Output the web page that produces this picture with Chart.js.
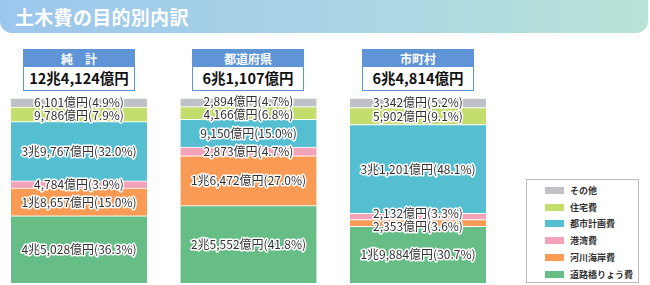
<!DOCTYPE html>
<html><head><meta charset="utf-8">
<script src="https://cdn.jsdelivr.net/npm/chart.js@4/dist/chart.umd.min.js"></script>
<style>
html,body{margin:0;padding:0;background:#fff;}
body{width:650px;height:285px;position:relative;overflow:hidden;font-family:"Noto Sans CJK JP","Noto Sans",sans-serif;}
#banner{position:absolute;left:0;top:0;width:648px;height:33px;border-radius:0 0 12px 12px;background:linear-gradient(to right,#9cc6ec,#a9d4e6 50%,#b7e2d6);}
#banner span{position:absolute;left:15px;top:3px;font-size:19px;font-weight:bold;color:#fff;letter-spacing:0.3px;}
.hdr{position:absolute;width:112px;top:49px;}
.hdr .t{height:18px;background:#5f95d6;color:#fff;font-weight:bold;font-size:12px;line-height:18px;text-align:center;border:1px solid #5f95d6;box-sizing:border-box;}
.hdr .v{height:24px;background:#fff;border:1.5px solid #5f95d6;border-top:none;box-sizing:border-box;color:#111;font-weight:bold;font-size:14.5px;line-height:22px;text-align:center;}
#legend{position:absolute;left:526px;top:179px;width:113px;height:104px;border:1px solid #bbb;box-sizing:border-box;background:#fff;}
.li{position:absolute;left:18px;height:12px;font-size:9px;font-weight:bold;color:#333;line-height:12px;}
.li i{display:inline-block;width:19px;height:7px;vertical-align:middle;margin-right:6px;margin-top:-2px;}
canvas{position:absolute;left:0;top:0;}
</style>
</head><body>
<div id="banner"><span>土木費の目的別内訳</span></div>
<div id="heads"></div>
<canvas id="c" width="650" height="285"></canvas>
<div id="legend"></div>
<script>
// ---- data ----
const categories = ["純　計", "都道府県", "市町村"];
const totals = [124124, 61107, 64814]; // 億円
const seriesNames = ["道路橋りょう費", "河川海岸費", "港湾費", "都市計画費", "住宅費", "その他"];
const amtRoad    = [45028, 25552, 19884];
const amtRiver   = [18657, 16472, 2353];
const amtPort    = [4784, 2873, 2132];
const amtCity    = [39767, 9150, 31201];
const amtHouse   = [9786, 4166, 5902];
const amtOther   = [6101, 2894, 3342];
const pctRoad    = [36.3, 41.8, 30.7];
const pctRiver   = [15.0, 27.0, 3.6];
const pctPort    = [3.9, 4.7, 3.3];
const pctCity    = [32.0, 15.0, 48.1];
const pctHouse   = [7.9, 6.8, 9.1];
const pctOther   = [4.9, 4.7, 5.2];
// ---------------

const colors = ["#66bd86", "#f99b55", "#f4a2b8", "#55bfd1", "#c4de6e", "#bec2c6"];
const amounts = [amtRoad, amtRiver, amtPort, amtCity, amtHouse, amtOther];
const pcts = [pctRoad, pctRiver, pctPort, pctCity, pctHouse, pctOther];

function fmt(v){
  const cho = Math.floor(v/10000), oku = v%10000;
  const okuStr = oku.toLocaleString('en-US');
  return (cho>0 ? cho+"兆" : "") + okuStr + "億円";
}

// headers
const centers = [79, 248, 418];
const heads = document.getElementById('heads');
categories.forEach((c,i)=>{
  const d = document.createElement('div');
  d.className='hdr'; d.style.left=(centers[i]-56)+'px';
  d.innerHTML='<div class="t">'+c+'</div><div class="v">'+fmt(totals[i])+'</div>';
  heads.appendChild(d);
});

// legend (top to bottom = reverse of stack order)
const lg = document.getElementById('legend');
for(let k=seriesNames.length-1, r=0; k>=0; k--, r++){
  const d=document.createElement('div'); d.className='li';
  d.style.top=(5+r*16.7)+'px';
  d.innerHTML='<i style="background:'+colors[k]+'"></i>'+seriesNames[k];
  lg.appendChild(d);
}

const labelPlugin = {
  id:'segLabels',
  afterDatasetsDraw(chart){
    const ctx = chart.ctx;
    ctx.save();
    ctx.font = '12px "Noto Sans CJK JP", sans-serif';
    ctx.textAlign='center'; ctx.textBaseline='middle';
    ctx.lineJoin='round';
    const nCat = chart.data.labels.length;
    for(let j=0;j<nCat;j++){
      // collect labels of this column, top to bottom
      const items=[];
      for(let i=chart.data.datasets.length-1;i>=0;i--){
        const el = chart.getDatasetMeta(i).data[j];
        items.push({x:el.x, y:(el.y+el.base)/2, txt: fmt(amounts[i][j]) + "(" + pcts[i][j].toFixed(1) + "%)"});
      }
      // separate overlapping labels
      const gap=13;
      for(let k=0;k<items.length-1;k++){
        const a=items[k], b=items[k+1];
        if(b.y-a.y<gap){
          const mid=(a.y+b.y)/2;
          a.y=mid-gap/2; b.y=mid+gap/2;
        }
      }
      items.forEach(it=>{
        ctx.lineWidth=3; ctx.strokeStyle='#fff';
        ctx.strokeText(it.txt, it.x, it.y);
        ctx.fillStyle='#333';
        ctx.fillText(it.txt, it.x, it.y);
      });
    }
    ctx.restore();
  }
};

new Chart(document.getElementById('c'), {
  type:'bar',
  data:{
    labels: categories,
    datasets: seriesNames.map((n,i)=>({
      label:n, data:pcts[i], backgroundColor:colors[i],
      borderColor:'#fff', borderWidth:{top:1,bottom:0,left:0,right:0}, borderSkipped:false,
      barThickness:136, clip:false
    }))
  },
  options:{
    responsive:false, animation:false,
    layout:{padding:{left:79, right:232, top:98, bottom:2}},
    plugins:{legend:{display:false}, tooltip:{enabled:false}},
    scales:{
      x:{stacked:true, display:false, offset:false},
      y:{stacked:true, display:false, min:0, max:100}
    }
  },
  plugins:[labelPlugin]
});
</script>
</body></html>
